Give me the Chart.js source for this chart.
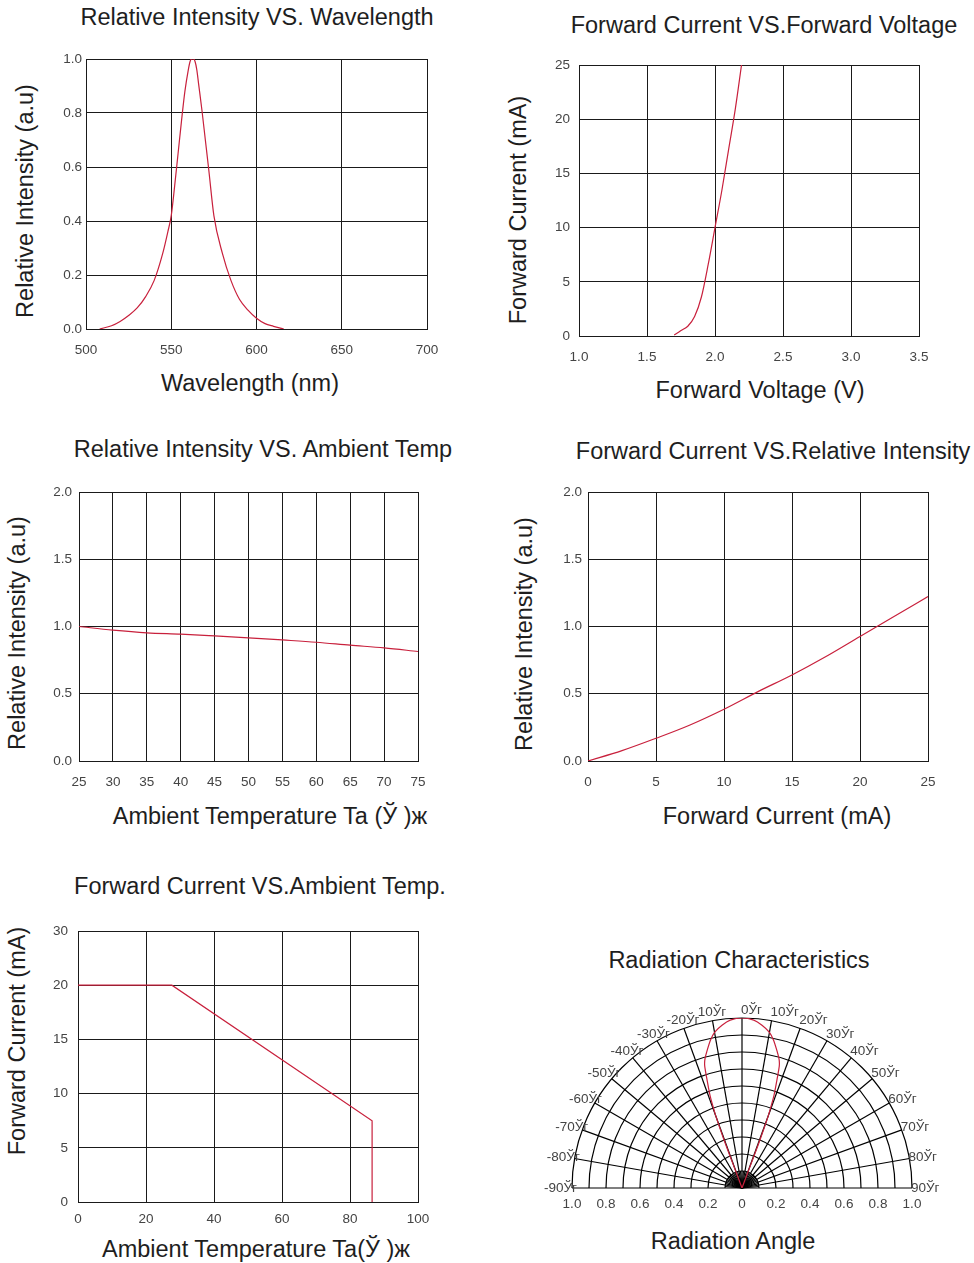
<!DOCTYPE html>
<html>
<head>
<meta charset="utf-8">
<script src="https://cdn.jsdelivr.net/npm/chart.js@4.4.1/dist/chart.umd.min.js"></script>
<style>
  body {
    margin: 0;
    background: #fff;
    width: 974px;
    height: 1263px;
    position: relative;
    overflow: hidden;
    font-family: "Liberation Sans", Arial, sans-serif;
  }
  canvas {
    position: absolute;
  }
  .title,
  .axis,
  .axis-y {
    position: absolute;
    font-size: 23.5px;
    color: #1e1e1e;
    white-space: nowrap;
    transform: translate(-50%, -50%);
  }
  .axis-y {
    transform: translate(-50%, -50%) rotate(-90deg);
  }
</style>
</head>
<body>
<!-- chart titles -->
<div class="title" style="left:257px;top:17px">Relative Intensity VS. Wavelength</div>
<div class="title" style="left:764px;top:25px">Forward Current VS.Forward Voltage</div>
<div class="title" style="left:263px;top:449px">Relative Intensity VS. Ambient Temp</div>
<div class="title" style="left:773px;top:451px">Forward Current VS.Relative Intensity</div>
<div class="title" style="left:260px;top:886px">Forward Current VS.Ambient Temp.</div>
<div class="title" style="left:739px;top:960px">Radiation Characteristics</div>

<!-- axis titles -->
<div class="axis" style="left:250px;top:383px">Wavelength (nm)</div>
<div class="axis-y" style="left:25px;top:201px">Relative Intensity (a.u)</div>
<div class="axis" style="left:760px;top:390px">Forward Voltage (V)</div>
<div class="axis-y" style="left:518px;top:210px">Forward Current (mA)</div>
<div class="axis" style="left:270px;top:816px">Ambient Temperature Ta (Ў )ж</div>
<div class="axis-y" style="left:17px;top:633px">Relative Intensity (a.u)</div>
<div class="axis" style="left:777px;top:816px">Forward Current (mA)</div>
<div class="axis-y" style="left:524px;top:634px">Relative Intensity (a.u)</div>
<div class="axis" style="left:256px;top:1249px">Ambient Temperature Ta(Ў )ж</div>
<div class="axis-y" style="left:17px;top:1041px">Forward Current (mA)</div>
<div class="axis" style="left:733px;top:1241px">Radiation Angle</div>

<canvas id="spectrumChart" style="left:0;top:40px" width="470" height="360"></canvas>
<canvas id="ivChart" style="left:490px;top:45px" width="484" height="375"></canvas>
<canvas id="tempIntensityChart" style="left:0;top:470px" width="470" height="370"></canvas>
<canvas id="currentIntensityChart" style="left:490px;top:470px" width="484" height="370"></canvas>
<canvas id="deratingChart" style="left:0;top:905px" width="470" height="358"></canvas>
<canvas id="radiationChart" style="left:530px;top:995px" width="430" height="225"></canvas>

<script>
// Relative Intensity vs Wavelength
const wavelengthNm = [508, 515, 520, 525, 530, 535, 540, 545, 548, 550, 552, 554, 556, 558, 560, 561, 562, 563, 564, 565, 566, 568, 570, 572, 575, 580, 585, 590, 595, 600, 605, 610, 616];
const spectrumIntensity = [0, 0.012, 0.028, 0.05, 0.078, 0.12, 0.18, 0.28, 0.36, 0.42, 0.53, 0.65, 0.77, 0.88, 0.96, 0.99, 1.0, 1.0, 0.99, 0.96, 0.91, 0.81, 0.7, 0.59, 0.42, 0.28, 0.18, 0.11, 0.07, 0.04, 0.02, 0.01, 0];

// Forward Current vs Forward Voltage
const forwardVoltage = [1.70, 1.75, 1.80, 1.85, 1.90, 1.95, 2.00, 2.05, 2.10, 2.15, 2.195];
const forwardCurrentIV = [0.1, 0.5, 0.9, 1.8, 3.6, 6.6, 10.0, 13.4, 17.2, 21.0, 25.0];

// Relative Intensity vs Ambient Temp
const ambientTemp = [25, 30, 35, 40, 45, 50, 55, 60, 65, 70, 75];
const relIntensityTemp = [1.0, 0.973, 0.953, 0.943, 0.93, 0.916, 0.9, 0.883, 0.861, 0.841, 0.814];

// Relative Intensity vs Forward Current
const forwardCurrentRI = [0, 2.5, 5, 7.5, 10, 12.5, 15, 17.5, 20, 22.5, 25];
const relIntensityCurrent = [0, 0.077, 0.169, 0.268, 0.385, 0.516, 0.64, 0.777, 0.926, 1.074, 1.223];

// Forward Current vs Ambient Temp (derating)
const deratingTemp = [0, 27.6, 86.5, 86.5];
const deratingCurrent = [20, 20, 7.5, 0];
const deratingTickLabels = ["0", "5", "10", "15", "20", "30"];

// Radiation pattern (half, mirrored for negative angles)
const radAngleDeg = [0, 4, 7, 10, 12, 14, 16, 17, 18, 19, 19.5, 20, 20.5, 20.5, 20];
const radIntensity = [1.0, 0.99, 0.965, 0.93, 0.89, 0.84, 0.79, 0.75, 0.66, 0.58, 0.52, 0.45, 0.3, 0.15, 0];
const radLabelAngles = [-90, -80, -70, -60, -50, -40, -30, -20, -10, 0, 10, 20, 30, 40, 50, 60, 70, 80, 90];
const radLabelText = ["-90Ўг", "-80Ўг", "-70Ўг", "-60Ўг", "-50Ўг", "-40Ўг", "-30Ўг", "-20Ўг", "10Ўг", "0Ўг", "10Ўг", "20Ўг", "30Ўг", "40Ўг", "50Ўг", "60Ўг", "70Ўг", "80Ўг", "90Ўг"];

const gridColor = "#1a1a1a";
const tickColor = "#444";
const lineRed = "#c8203c";
const tickFont = { family: "Liberation Sans", size: 13.5 };

function buildXY(id, o) {
  const points = o.xs.map((v, i) => ({ x: v, y: o.ys[i] }));
  return new Chart(document.getElementById(id), {
    type: "scatter",
    data: {
      datasets: [
        {
          data: points,
          showLine: true,
          borderColor: lineRed,
          borderWidth: 1.2,
          pointRadius: 0,
          tension: o.smooth ? 0.4 : 0,
          cubicInterpolationMode: o.smooth ? "monotone" : "default",
        },
      ],
    },
    options: {
      responsive: false,
      animation: false,
      layout: { padding: { top: o.padTop, right: o.padRight, left: 0, bottom: 0 } },
      plugins: { legend: { display: false }, tooltip: { enabled: false } },
      scales: {
        x: {
          type: "linear",
          min: o.xMin,
          max: o.xMax,
          ticks: {
            stepSize: o.xStep,
            padding: o.xTickPad,
            font: tickFont,
            color: tickColor,
            autoSkip: false,
            maxRotation: 0,
            callback: o.xFmt || ((v) => String(v)),
          },
          grid: { color: gridColor, drawTicks: false },
          border: { color: gridColor },
          afterFit: (s) => {
            s.height = o.xHeight;
          },
        },
        y: {
          type: "linear",
          min: o.yMin,
          max: o.yMax,
          ticks: {
            stepSize: o.yStep,
            padding: o.yTickPad,
            font: tickFont,
            color: tickColor,
            autoSkip: false,
            callback: o.yFmt || ((v) => String(v)),
          },
          grid: { color: gridColor, drawTicks: false },
          border: { color: gridColor },
          afterFit: (s) => {
            s.width = o.yWidth;
          },
        },
      },
    },
  });
}

const oneDecimal = (v) => v.toFixed(1);

buildXY("spectrumChart", {
  xs: wavelengthNm, ys: spectrumIntensity, smooth: true,
  xMin: 500, xMax: 700, xStep: 50, yMin: 0, yMax: 1, yStep: 0.2, yFmt: oneDecimal,
  padTop: 19, padRight: 43, yWidth: 86, xHeight: 71,
  xTickPad: 13, yTickPad: 4,
});

buildXY("ivChart", {
  xs: forwardVoltage, ys: forwardCurrentIV, smooth: true,
  xMin: 1, xMax: 3.5, xStep: 0.5, xFmt: oneDecimal, yMin: 0, yMax: 25, yStep: 5,
  padTop: 20, padRight: 55, yWidth: 89, xHeight: 84,
  xTickPad: 13, yTickPad: 9,
});

buildXY("tempIntensityChart", {
  xs: ambientTemp, ys: relIntensityTemp, smooth: true,
  xMin: 25, xMax: 75, xStep: 5, yMin: 0, yMax: 2, yStep: 0.5, yFmt: oneDecimal,
  padTop: 22, padRight: 52, yWidth: 79, xHeight: 79,
  xTickPad: 13, yTickPad: 7,
});

buildXY("currentIntensityChart", {
  xs: forwardCurrentRI, ys: relIntensityCurrent, smooth: true,
  xMin: 0, xMax: 25, xStep: 5, yMin: 0, yMax: 2, yStep: 0.5, yFmt: oneDecimal,
  padTop: 22, padRight: 46, yWidth: 98, xHeight: 79,
  xTickPad: 13, yTickPad: 6,
});

buildXY("deratingChart", {
  xs: deratingTemp, ys: deratingCurrent, smooth: false,
  xMin: 0, xMax: 100, xStep: 20, yMin: 0, yMax: 25, yStep: 5,
  yFmt: (v, i) => deratingTickLabels[i],
  padTop: 26, padRight: 52, yWidth: 78, xHeight: 61,
  xTickPad: 9, yTickPad: 10,
});

// Radiation characteristics: polar grid drawn on top of linear scales
const polarGrid = {
  id: "polarGrid",
  beforeDatasetsDraw(chart) {
    const { ctx, scales: { x, y } } = chart;
    const cx = x.getPixelForValue(0);
    const cy = y.getPixelForValue(0);
    const R = x.getPixelForValue(1) - cx;
    ctx.save();
    ctx.strokeStyle = "#000";
    ctx.lineWidth = 1.2;
    for (let i = 1; i <= 10; i++) {
      ctx.beginPath();
      ctx.arc(cx, cy, (R * i) / 10, Math.PI, 2 * Math.PI);
      ctx.stroke();
    }
    for (let deg = -90; deg <= 90; deg += 5) {
      const t = (deg * Math.PI) / 180;
      const len = deg % 10 === 0 ? R : R * 0.1;
      ctx.beginPath();
      ctx.moveTo(cx, cy);
      ctx.lineTo(cx + len * Math.sin(t), cy - len * Math.cos(t));
      ctx.stroke();
    }
    ctx.restore();
  },
  afterDraw(chart) {
    const { ctx, scales: { x, y } } = chart;
    const cx = x.getPixelForValue(0);
    const cy = y.getPixelForValue(0);
    const R = x.getPixelForValue(1) - cx;
    ctx.save();
    ctx.font = "13.5px 'Liberation Sans'";
    ctx.fillStyle = tickColor;
    ctx.textBaseline = "middle";
    ctx.textAlign = "left";
    radLabelAngles.forEach((deg, i) => {
      const t = (deg * Math.PI) / 180;
      const px = cx + R * Math.sin(t);
      const py = cy - R * Math.cos(t) - 8 * Math.cos(t);
      const lx = deg >= 0 ? px - 1 : px - 12 - 16 * Math.sin(-t);
      ctx.fillText(radLabelText[i], lx, py);
    });
    ctx.restore();
  },
};

const radPoints = [];
for (let i = radAngleDeg.length - 1; i >= 0; i--) {
  const t = (-radAngleDeg[i] * Math.PI) / 180;
  radPoints.push({ x: radIntensity[i] * Math.sin(t), y: radIntensity[i] * Math.cos(t) });
}
for (let i = 1; i < radAngleDeg.length; i++) {
  const t = (radAngleDeg[i] * Math.PI) / 180;
  radPoints.push({ x: radIntensity[i] * Math.sin(t), y: radIntensity[i] * Math.cos(t) });
}

new Chart(document.getElementById("radiationChart"), {
  type: "scatter",
  data: {
    datasets: [
      {
        data: radPoints,
        showLine: true,
        borderColor: lineRed,
        borderWidth: 1.2,
        pointRadius: 0,
        tension: 0.2,
      },
    ],
  },
  options: {
    responsive: false,
    animation: false,
    layout: { padding: { top: 23, right: 48, left: 42, bottom: 0 } },
    plugins: { legend: { display: false }, tooltip: { enabled: false } },
    scales: {
      x: {
        type: "linear",
        min: -1,
        max: 1,
        ticks: {
          stepSize: 0.2,
          padding: 8,
          font: tickFont,
          color: tickColor,
          autoSkip: false,
          maxRotation: 0,
          callback: (v) => (Math.abs(v) < 1e-9 ? "0" : Math.abs(v).toFixed(1)),
        },
        grid: { display: false, drawTicks: false },
        border: { display: false },
        afterFit: (s) => {
          s.height = 32;
        },
      },
      y: {
        type: "linear",
        min: 0,
        max: 1,
        display: false,
      },
    },
  },
  plugins: [polarGrid],
});
</script>
</body>
</html>
